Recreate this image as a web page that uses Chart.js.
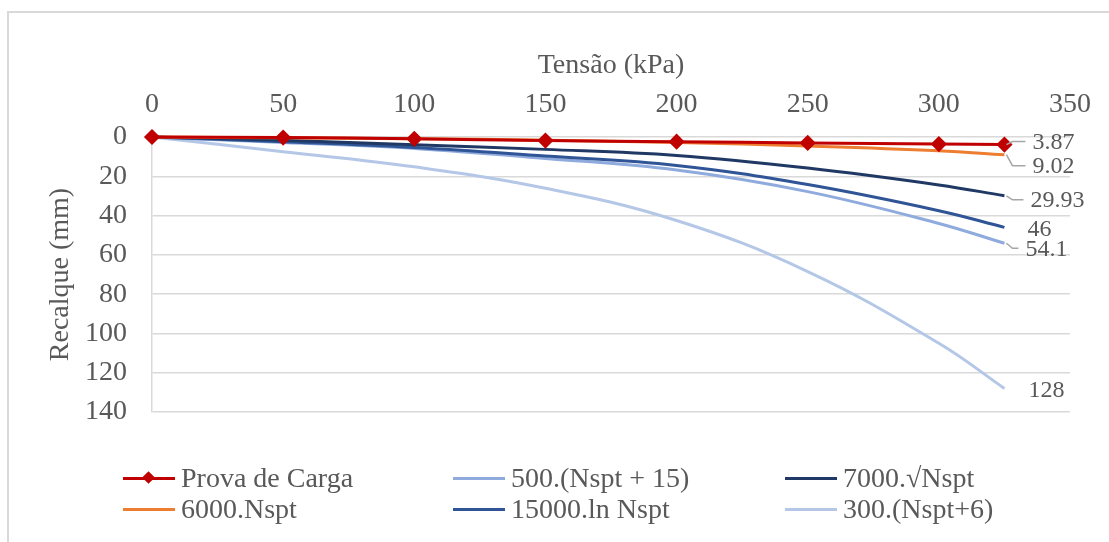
<!DOCTYPE html>
<html>
<head>
<meta charset="utf-8">
<script src="https://cdn.jsdelivr.net/npm/chart.js@4.4.1/dist/chart.umd.min.js"></script>
<style>
    html, body { margin: 0; padding: 0; background: #fff; }
    #wrap { position: relative; width: 1109px; height: 542px; overflow: hidden; }
    #frame { position: absolute; left: 7px; top: 11px; width: 1200px; height: 600px; border: 2px solid #d9d9d9; box-sizing: border-box; }
    #grafico { position: absolute; left: 0; top: 0; }
    .leg { position: absolute; height: 32px; font: 28px "Liberation Serif", "Times New Roman", serif; color: #595959; white-space: nowrap; }
    .leg .amostra { position: absolute; left: 0; top: 15px; width: 52px; height: 3px; }
    .leg .diamante { position: absolute; left: 21px; top: 11px; width: 9px; height: 9px; transform: rotate(45deg); }
    .leg .txt { position: absolute; left: 58px; top: 0px; line-height: 32px; }
</style>
</head>
<body>
<div id="wrap">
    <div id="frame"></div>
    <canvas id="grafico" width="1109" height="542"></canvas>
    <div id="legenda"></div>
</div>
<script>
// dados
const tensao = [0, 50, 100, 150, 200, 250, 300, 325];
const provaDeCarga = [0, 0.3, 0.9, 1.8, 2.4, 3.0, 3.6, 3.87];
const nspt6000 = [0, 0.4, 0.9, 1.6, 2.8, 4.6, 7.0, 9.02];
const raiz7000 = [0, 1.7, 4.0, 6.3, 9.4, 15.8, 24.4, 29.93];
const ln15000 = [0, 2.4, 5.3, 9.7, 14.5, 24.2, 37.5, 46];
const nspt500 = [0, 2.8, 5.8, 10.9, 16.8, 27.8, 44.0, 54.1];
const nspt300 = [0, 7.5, 15.2, 26.1, 42.5, 68.5, 105, 128];

const nomes = ["Prova de Carga", "6000.Nspt", "7000.\u221ANspt", "15000.ln Nspt", "500.(Nspt + 15)", "300.(Nspt+6)"];
const cores = ["#c00000", "#ed7d31", "#203864", "#2f5597", "#8faadc", "#b4c7e7"];
const valores = [provaDeCarga, nspt6000, raiz7000, ln15000, nspt500, nspt300];

// ordem da legenda (linha a linha) e deslocamento dos rotulos finais [dx, dy, linha guia]
const ordemLegenda = [0, 4, 2, 1, 3, 5];
const deslocRotulo = [[28, -3, true], [28, 11, true], [26, 4, true], [23, 1, false], [21, 5, true], [24, 1, false]];

const fonte = '"Liberation Serif", "Times New Roman", serif';
const cinza = "#595959";

const datasets = valores.map((v, i) => ({
    label: nomes[i],
    data: v.map((y, k) => ({ x: tensao[k], y: y })),
    borderColor: cores[i],
    backgroundColor: cores[i],
    borderWidth: 3,
    tension: 0.4,
    clip: false,
    pointStyle: "rectRot",
    pointRadius: i === 0 ? 6 : 0,
    pointHoverRadius: i === 0 ? 6 : 0,
}));

// rotulos do ultimo ponto, estilo excel
const rotulosFinais = {
    id: "rotulosFinais",
    afterDatasetsDraw(chart) {
        const ctx = chart.ctx;
        ctx.save();
        ctx.font = "24px " + fonte;
        ctx.fillStyle = cinza;
        ctx.textBaseline = "middle";
        ctx.textAlign = "left";
        chart.data.datasets.forEach((ds, i) => {
            const meta = chart.getDatasetMeta(i);
            const pt = meta.data[meta.data.length - 1];
            const [dx, dy, guia] = deslocRotulo[i];
            const tx = pt.x + dx;
            const ty = pt.y + dy;
            if (guia) {
                ctx.strokeStyle = "#a6a6a6";
                ctx.lineWidth = 1.5;
                ctx.beginPath();
                ctx.moveTo(pt.x + 2, pt.y);
                ctx.lineTo(pt.x + 8, ty);
                ctx.lineTo(tx - 7, ty);
                ctx.stroke();
            }
            const v = valores[i][valores[i].length - 1];
            ctx.fillText(String(v), tx, ty + 1);
        });
        ctx.restore();
    },
};

const config = {
    type: "line",
    data: { datasets: datasets },
    options: {
        responsive: false,
        devicePixelRatio: 1,
        animation: false,
        layout: { padding: { left: 44, top: 49, right: 39, bottom: 130 } },
        plugins: {
            legend: { display: false },
            tooltip: { enabled: false },
        },
        scales: {
            x: {
                type: "linear",
                position: "top",
                min: 0,
                max: 350,
                ticks: { stepSize: 50, color: cinza, font: { family: fonte, size: 28 }, padding: 16, maxRotation: 0 },
                grid: { display: false, drawTicks: false },
                border: { display: false },
                title: { display: true, text: "Tens\u00e3o (kPa)", color: cinza, font: { family: fonte, size: 28 }, padding: 0 },
                afterFit: (s) => { s.height = 88; },
            },
            y: {
                type: "linear",
                reverse: true,
                min: 0,
                max: 140,
                ticks: { stepSize: 20, color: cinza, font: { family: fonte, size: 28 }, padding: 25 },
                grid: { color: "#d9d9d9", lineWidth: 1.5, drawTicks: false },
                border: { color: "#d9d9d9", width: 1.5 },
                title: { display: true, text: "Recalque (mm)", color: cinza, font: { family: fonte, size: 28 }, padding: 0 },
                afterFit: (s) => { s.width = 108; },
            },
        },
    },
    plugins: [rotulosFinais],
};

var ctx = document.getElementById("grafico").getContext("2d");
var grafico = new Chart(ctx, config);

// legenda em 3 colunas
const colX = [123, 453, 785];
const linY = [462, 493];
const leg = document.getElementById("legenda");
ordemLegenda.forEach((idx, n) => {
    const el = document.createElement("div");
    el.className = "leg";
    el.style.left = colX[n % 3] + "px";
    el.style.top = linY[Math.floor(n / 3)] + "px";
    let html = '<div class="amostra" style="background:' + cores[idx] + '"></div>';
    if (idx === 0) html += '<div class="diamante" style="background:' + cores[idx] + '"></div>';
    html += '<span class="txt">' + nomes[idx] + "</span>";
    el.innerHTML = html;
    leg.appendChild(el);
});
</script>
</body>
</html>
